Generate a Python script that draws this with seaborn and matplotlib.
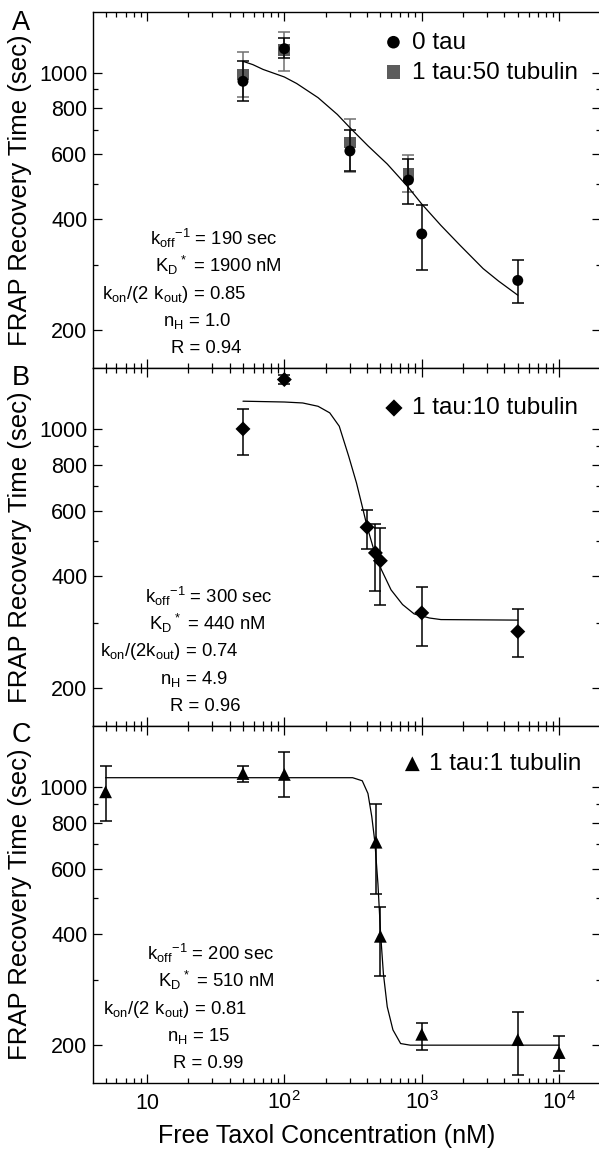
import matplotlib
matplotlib.use("Agg")
import numpy as np
import matplotlib.pyplot as plt
import seaborn as sns
from matplotlib.ticker import FixedLocator, LogLocator, NullFormatter

# ---- values ----
# Panel A : 0 tau (black circles)
a0_x = [50, 100, 300, 800, 1000, 5000]
a0_y = [947, 1161, 613, 511, 365, 273]
a0_lo = [840, 1095, 542, 440, 292, 237]
a0_hi = [1073, 1240, 697, 582, 436, 310]

# Panel A : 1 tau:50 tubulin (grey squares)
a50_x = [50, 100, 300, 800]
a50_y = [988, 1154, 646, 531]
a50_lo = [860, 1010, 536, 473]
a50_hi = [1135, 1288, 750, 598]

# Panel A fit curve
fitA_x = [50, 59, 70, 100, 123, 176, 243, 300, 406, 561, 800, 1000, 1379, 1901, 2797, 3620, 5000]
fitA_y = [1073, 1051, 1020, 973, 934, 855, 770, 709, 633, 565, 488, 440, 385, 340, 294, 272, 249]

# Panel B : 1 tau:10 tubulin (diamonds)
b_x = [50, 100, 400, 460, 500, 1000, 5000]
b_y = [1000, 1359, 543, 463, 441, 319, 284]
b_lo = [853, 1325, 474, 365, 334, 260, 242]
b_hi = [1135, 1396, 606, 555, 541, 375, 327]

fitB_x = [50, 100, 136, 176, 214, 251, 294, 335, 369, 400, 448, 509, 598, 725, 880, 1138, 1379, 5000]
fitB_y = [1188, 1182, 1175, 1151, 1105, 1017, 844, 715, 618, 546, 472, 417, 368, 336, 317, 309, 306, 305]

# Panel C : 1 tau:1 tubulin (triangles)
c_x = [5, 50, 100, 465, 500, 1000, 5000, 10000]
c_y = [969, 1086, 1080, 708, 394, 214, 207, 191]
c_lo = [808, 1029, 940, 513, 308, 194, 166, 170]
c_hi = [1137, 1139, 1243, 898, 474, 230, 246, 212]

fitC_x = [5, 314, 369, 406, 433, 456, 480, 502, 526, 561, 617, 702, 824, 10000]
fitC_y = [1058, 1058, 1038, 959, 830, 708, 546, 400, 312, 254, 220, 202, 200, 200]

# fit parameter text
textA = [r"$\mathregular{k_{off}{}^{-1}}$ = 190 sec", r"$\mathregular{K_D{}^*}$ = 1900 nM",
         r"$\mathregular{k_{on}/(2\ k_{out})}$ = 0.85", r"$\mathregular{n_H}$ = 1.0", "R = 0.94"]
textB = [r"$\mathregular{k_{off}{}^{-1}}$ = 300 sec", r"$\mathregular{K_D{}^*}$ = 440 nM",
         r"$\mathregular{k_{on}/(2k_{out})}$ = 0.74", r"$\mathregular{n_H}$ = 4.9", "R = 0.96"]
textC = [r"$\mathregular{k_{off}{}^{-1}}$ = 200 sec", r"$\mathregular{K_D{}^*}$ = 510 nM",
         r"$\mathregular{k_{on}/(2\ k_{out})}$ = 0.81", r"$\mathregular{n_H}$ = 15", "R = 0.99"]

xticks = [10, 100, 1000, 10000]
xtick_labels = ["10", r"$\mathregular{10^2}$", r"$\mathregular{10^3}$", r"$\mathregular{10^4}$"]
yticks = [200, 400, 600, 800, 1000]
yminor = [300, 500, 700, 900]

sns.set_theme(style="ticks")
plt.rcParams["font.family"] = ["Liberation Sans", "DejaVu Sans"]
plt.rcParams["mathtext.fontset"] = "custom"
plt.rcParams["mathtext.rm"] = "Liberation Sans"
plt.rcParams["axes.linewidth"] = 1.0
for key in ["text.color", "axes.labelcolor", "xtick.color", "ytick.color", "axes.edgecolor"]:
    plt.rcParams[key] = "black"

W, H = 599, 1151
fig = plt.figure(figsize=(W / 100, H / 100), dpi=100)

left = 93 / W
width = (600.5 - 93) / W
panels = [(12, 368), (368, 726), (726, 1083)]
axes = []
for i, (top, bot) in enumerate(panels):
    rect = [left, 1 - bot / H, width, (bot - top) / H]
    if i == 0:
        ax = fig.add_axes(rect)
    else:
        ax = fig.add_axes(rect, sharex=axes[0])
    axes.append(ax)


def style_axis(ax, show_x):
    ax.set_xscale("log")
    ax.set_yscale("log")
    ax.set_xlim(4.05, 20000)
    ax.set_ylim(158, 1460)
    ax.xaxis.set_major_locator(FixedLocator(xticks))
    ax.xaxis.set_minor_locator(LogLocator(base=10, subs=range(2, 10)))
    ax.xaxis.set_minor_formatter(NullFormatter())
    ax.yaxis.set_major_locator(FixedLocator(yticks))
    ax.yaxis.set_minor_locator(FixedLocator(yminor))
    ax.yaxis.set_minor_formatter(NullFormatter())
    ax.set_yticklabels([str(v) for v in yticks])
    ax.tick_params(which="both", direction="in", top=True, right=True, width=0.9, color="black")
    ax.tick_params(which="major", length=6.5)
    ax.tick_params(which="minor", length=3.6)
    ax.tick_params(axis="y", labelsize=15.5, pad=4)
    if show_x:
        ax.set_xticklabels(xtick_labels, va="baseline")
        ax.tick_params(axis="x", labelsize=15.5, pad=19)
        ax.set_xlabel("Free Taxol Concentration (nM)", fontsize=18)
        ax.xaxis.set_label_coords(0.46, -0.115)
    else:
        ax.tick_params(axis="x", labelbottom=False)
    ax.set_ylabel("FRAP Recovery Time (sec)", fontsize=18.5)
    ax.yaxis.set_label_coords(-0.12, 0.5)
    for sp in ax.spines.values():
        sp.set_visible(True)
        sp.set_color("black")


def errbars(ax, x, y, lo, hi, color, z):
    y = np.array(y, dtype=float)
    yerr = [y - np.array(lo), np.array(hi) - y]
    ax.errorbar(x, y, yerr=yerr, fmt="none", ecolor=color, elinewidth=1.1,
                capsize=4, capthick=1.1, zorder=z)


def annotate(ax, lines, xs_px):
    offs = [234, 261, 287.5, 315, 342]
    for txt, xp, off in zip(lines, xs_px, offs):
        ax.text((xp - 93) / 507.5, 1 - off / 357, txt, transform=ax.transAxes,
                fontsize=13.3, ha="left", va="baseline")


leg_kw = dict(loc="upper right", frameon=False, fontsize=17.5, borderpad=0,
              labelspacing=0.33, handlelength=0.8, handletextpad=0.35,
              borderaxespad=0, markerscale=1.15)

# ---- panel A ----
ax = axes[0]
errbars(ax, a50_x, a50_y, a50_lo, a50_hi, "#707070", 2)
sns.scatterplot(x=a50_x, y=a50_y, marker="s", s=72, color="#5c5c5c", edgecolor="none",
                label="1 tau:50 tubulin", ax=ax, zorder=3)
errbars(ax, a0_x, a0_y, a0_lo, a0_hi, "black", 4)
sns.lineplot(x=fitA_x, y=fitA_y, color="black", lw=0.9, sort=False, estimator=None, ax=ax, zorder=5)
sns.scatterplot(x=a0_x, y=a0_y, marker="o", s=62, color="black", edgecolor="none",
                label="0 tau", ax=ax, zorder=6)
h, l = ax.get_legend_handles_labels()
ax.legend([h[1], h[0]], [l[1], l[0]], bbox_to_anchor=(0.955, 0.945), **leg_kw)
annotate(ax, textA, [150, 155, 101.5, 163, 171])
style_axis(ax, False)

# ---- panel B ----
ax = axes[1]
errbars(ax, b_x, b_y, b_lo, b_hi, "black", 4)
sns.lineplot(x=fitB_x, y=fitB_y, color="black", lw=0.9, sort=False, estimator=None, ax=ax, zorder=5)
sns.scatterplot(x=b_x, y=b_y, marker="D", s=58, color="black", edgecolor="none",
                label="1 tau:10 tubulin", ax=ax, zorder=6)
ax.legend(bbox_to_anchor=(0.956, 0.918), **leg_kw)
annotate(ax, textB, [144.7, 149.3, 100.3, 160, 170.3])
style_axis(ax, False)

# ---- panel C ----
ax = axes[2]
errbars(ax, c_x, c_y, c_lo, c_hi, "black", 4)
sns.lineplot(x=fitC_x, y=fitC_y, color="black", lw=0.9, sort=False, estimator=None, ax=ax, zorder=5)
sns.scatterplot(x=c_x, y=c_y, marker="^", s=85, color="black", edgecolor="none",
                label="1 tau:1 tubulin", ax=ax, zorder=6)
leg_kw["handletextpad"] = 0.3
ax.legend(bbox_to_anchor=(0.963, 0.924), **leg_kw)
annotate(ax, textC, [147.3, 158, 102.6, 167.2, 173.4])
style_axis(ax, True)

for letter, yc in zip(["A", "B", "C"], [22.5, 378, 735]):
    fig.text(21 / W, 1 - yc / H, letter, fontsize=19.5, ha="center", va="center")

fig.savefig("out.png", dpi=100)
